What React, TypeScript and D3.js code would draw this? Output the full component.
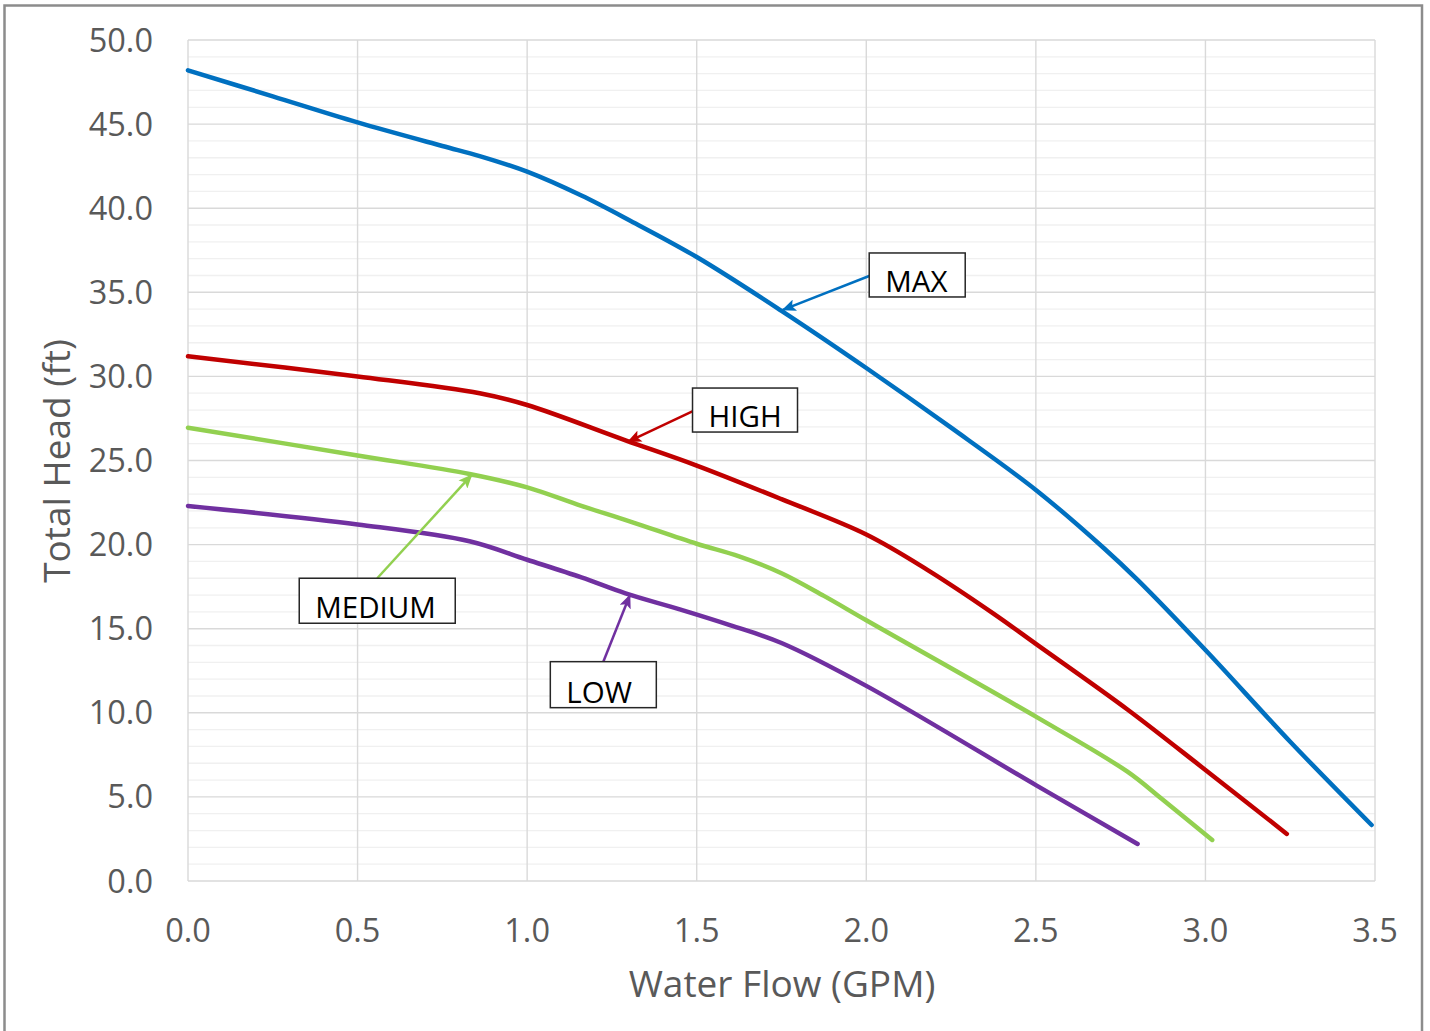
import React from "react";
import * as d3 from "d3";

// ---- data ----
const xTicks = [0, 0.5, 1.0, 1.5, 2.0, 2.5, 3.0, 3.5];
const yTicks = [0, 5, 10, 15, 20, 25, 30, 35, 40, 45, 50];
const yMinorTicks = d3.range(0, 51, 1);

const flowMax = [0, 0.25, 0.5, 0.75, 0.86, 1.0, 1.16, 1.3, 1.5, 1.75, 2.0, 2.25, 2.5, 2.7, 2.8, 3.0, 3.25, 3.49];
const headMax = [48.2, 46.65, 45.1, 43.7, 43.1, 42.17, 40.75, 39.3, 37.1, 33.9, 30.5, 26.95, 23.25, 19.8, 17.9, 13.73, 8.28, 3.33];

const flowHigh = [0, 0.5, 0.86, 1.0, 1.29, 1.5, 1.75, 2.0, 2.18, 2.375, 2.5, 2.77, 3.0, 3.24];
const headHigh = [31.2, 30.0, 29.0, 28.3, 26.2, 24.7, 22.7, 20.6, 18.5, 15.9, 14.1, 10.2, 6.6, 2.8];

const flowMedium = [0, 0.5, 0.83, 1.0, 1.16, 1.3, 1.5, 1.625, 1.75, 1.875, 2.0, 2.5, 2.77, 2.87, 3.02];
const headMedium = [26.95, 25.3, 24.2, 23.4, 22.3, 21.4, 20.05, 19.3, 18.3, 16.95, 15.5, 9.77, 6.5, 4.9, 2.44];

const flowLow = [0, 0.5, 0.83, 1.0, 1.16, 1.29, 1.45, 1.6, 1.75, 2.0, 2.5, 2.8];
const headLow = [22.3, 21.2, 20.2, 19.1, 18.05, 17.1, 16.15, 15.2, 14.15, 11.6, 5.7, 2.2];

const seriesNames = ["MAX", "HIGH", "MEDIUM", "LOW"];
// annotation arrow tip (on curve) and tail (at label box), in data units
const tipFlow = [1.7536, 1.298, 0.8365, 1.303];
const tipHead = [33.95, 26.12, 24.14, 17.0];
const tailFlow = [2.016, 1.495, 0.558, 1.2246];
const tailHead = [36.03, 28.0, 18.0, 13.04];

// ---- styles / layout ----
const W = 1430;
const H = 1031;
const colors = ["#0070C0", "#C00000", "#92D050", "#7030A0"];
const boxW = [96, 105, 156, 106];
const boxH = [44, 44, 45, 46];
const boxAnchor = ["left", "left", "top", "top"];
const FONT = "'Open Sans', 'Noto Sans', sans-serif";

export default function App() {
  const x = d3.scaleLinear().domain([0, 3.5]).range([188, 1375]);
  const y = d3.scaleLinear().domain([0, 50]).range([881, 40]);

  const flows = [flowMax, flowHigh, flowMedium, flowLow];
  const heads = [headMax, headHigh, headMedium, headLow];

  const line = d3
    .line<[number, number]>()
    .x((d) => x(d[0]))
    .y((d) => y(d[1]))
    .curve(d3.curveCatmullRom.alpha(0.5));

  return (
    <svg
      width={W}
      height={H}
      style={{ position: "absolute", left: 0, top: 0, background: "#fff" }}
      fontFamily={FONT}
    >
      <defs>
        {colors.map((c, i) => (
          <marker
            key={i}
            id={`arrow${i}`}
            markerUnits="userSpaceOnUse"
            markerWidth={14}
            markerHeight={12}
            refX={13}
            refY={6}
            orient="auto"
          >
            <path d="M0,0 L14,6 L0,12 L3,6 Z" fill={c} />
          </marker>
        ))}
      </defs>
      <rect x={0} y={0} width={W} height={H} fill="#fff" />
      {/* outer chart border */}
      <rect x={4.5} y={5.5} width={1417.5} height={1060} fill="none" stroke="#8c8c8c" strokeWidth={2.5} />

      {/* minor horizontal gridlines */}
      {yMinorTicks
        .filter((v) => v % 5 !== 0)
        .map((v) => (
          <line key={`m${v}`} x1={x(0)} x2={x(3.5)} y1={y(v)} y2={y(v)} stroke="#f0f0f0" strokeWidth={1.3} />
        ))}
      {/* major horizontal gridlines */}
      {yTicks.map((v) => (
        <line key={`y${v}`} x1={x(0)} x2={x(3.5)} y1={y(v)} y2={y(v)} stroke="#d9d9d9" strokeWidth={1.4} />
      ))}
      {/* vertical gridlines */}
      {xTicks.map((v) => (
        <line key={`x${v}`} x1={x(v)} x2={x(v)} y1={y(0)} y2={y(50)} stroke="#d9d9d9" strokeWidth={1.4} />
      ))}

      {/* y tick labels */}
      {yTicks.map((v) => (
        <text key={`yl${v}`} x={153} y={y(v) + 11.5} textAnchor="end" fontSize={32.5} fill="#595959">
          {v.toFixed(1)}
        </text>
      ))}
      {/* x tick labels */}
      {xTicks.map((v) => (
        <text key={`xl${v}`} x={x(v)} y={y(0) + 61} textAnchor="middle" fontSize={32.5} fill="#595959">
          {v.toFixed(1)}
        </text>
      ))}

      {/* axis titles */}
      <text x={782} y={997} textAnchor="middle" fontSize={37} fill="#595959">
        Water Flow (GPM)
      </text>
      <text
        transform={`translate(70,461) rotate(-90)`}
        textAnchor="middle"
        fontSize={37}
        fill="#595959"
      >
        Total Head (ft)
      </text>

      {/* series */}
      {flows.map((fl, i) => {
        const pts = fl.map((f, j) => [f, heads[i][j]] as [number, number]);
        return (
          <path
            key={`s${i}`}
            d={line(pts) || ""}
            fill="none"
            stroke={colors[i]}
            strokeWidth={4.5}
            strokeLinecap="round"
            strokeLinejoin="round"
          />
        );
      })}

      {/* annotations */}
      {seriesNames.map((name, i) => {
        const tx = x(tailFlow[i]);
        const ty = y(tailHead[i]);
        const bx = boxAnchor[i] === "left" ? tx - 2.5 : tx - boxW[i] / 2;
        const by = boxAnchor[i] === "left" ? ty - boxH[i] / 2 : ty;
        return (
          <g key={`a${i}`}>
            <line
              x1={tx}
              y1={ty}
              x2={x(tipFlow[i])}
              y2={y(tipHead[i])}
              stroke={colors[i]}
              strokeWidth={2.5}
              markerEnd={`url(#arrow${i})`}
            />
            <rect x={bx} y={by} width={boxW[i]} height={boxH[i]} fill="#fff" stroke="#262626" strokeWidth={1.5} />
            <text x={bx + 16} y={by + boxH[i] - 5} fontSize={29.5} fill="#000">
              {name}
            </text>
          </g>
        );
      })}
    </svg>
  );
}
